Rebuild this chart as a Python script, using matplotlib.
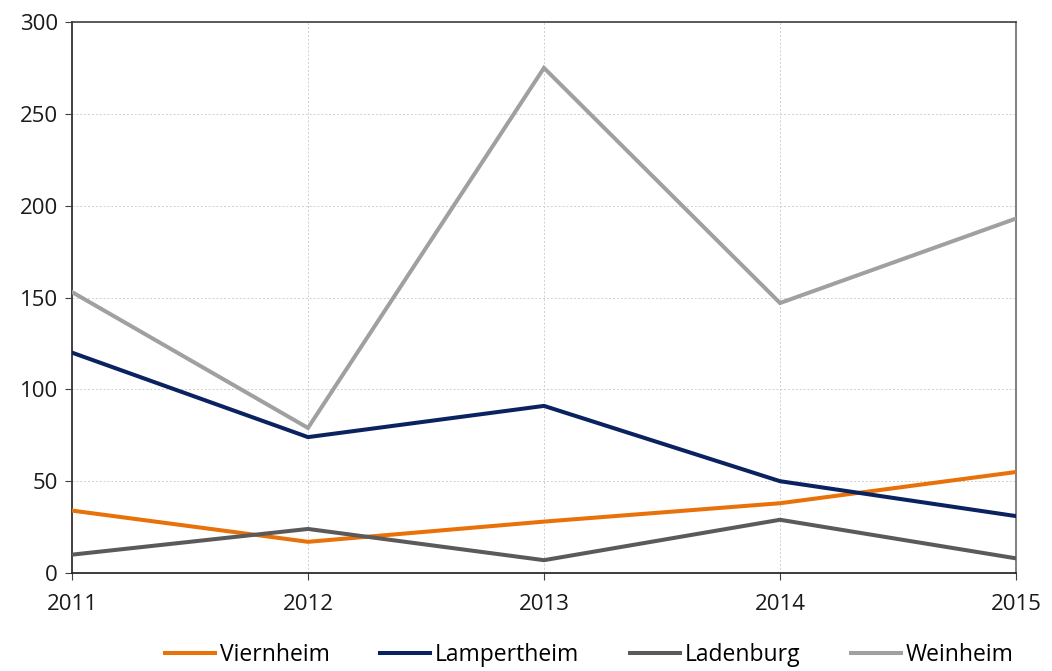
import matplotlib.pyplot as plt

# Jahreswerte je Stadt
years = [2011, 2012, 2013, 2014, 2015]
viernheim = [34, 17, 28, 38, 55]
lampertheim = [120, 74, 91, 50, 31]
ladenburg = [10, 24, 7, 29, 8]
weinheim = [153, 79, 275, 147, 193]

series = [
    ("Viernheim", viernheim, "#E8710A"),
    ("Lampertheim", lampertheim, "#0A2260"),
    ("Ladenburg", ladenburg, "#5A5A5A"),
    ("Weinheim", weinheim, "#A0A0A0"),
]

plt.rcParams['font.family'] = ['Open Sans', 'DejaVu Sans']

fig = plt.figure(figsize=(10.52, 6.71), dpi=100)
ax = fig.add_axes([0.0684, 0.146, 0.8974, 0.8212])

for name, vals, color in series:
    ax.plot(years, vals, color=color, linewidth=2.9, label=name,
            solid_joinstyle='miter', zorder=3)

ax.set_xlim(2011, 2015)
ax.set_ylim(0, 300)
ax.set_xticks(years)
ax.set_yticks(range(0, 301, 50))
ax.tick_params(axis='both', labelsize=16, direction='out', length=5,
               color='#404040', labelcolor='#1a1a1a')
ax.tick_params(axis='x', pad=10)
ax.tick_params(axis='y', pad=5)

ax.grid(True, color='#cfcfcf', linestyle=(0, (2, 2)), linewidth=0.7, zorder=0)

ax.spines['left'].set_color('#404040')
ax.spines['left'].set_linewidth(1.4)
ax.spines['top'].set_color('#404040')
ax.spines['top'].set_linewidth(1.2)
ax.spines['bottom'].set_color('#1a1a1a')
ax.spines['bottom'].set_linewidth(1.2)
ax.spines['right'].set_color('#808080')
ax.spines['right'].set_linewidth(1.4)

fig.legend(loc='lower center', bbox_to_anchor=(0.56, -0.025), ncol=4,
           frameon=False, fontsize=16.5, handlelength=2.2,
           handletextpad=0.2, columnspacing=2.2)

fig.savefig("out.png", dpi=100)
